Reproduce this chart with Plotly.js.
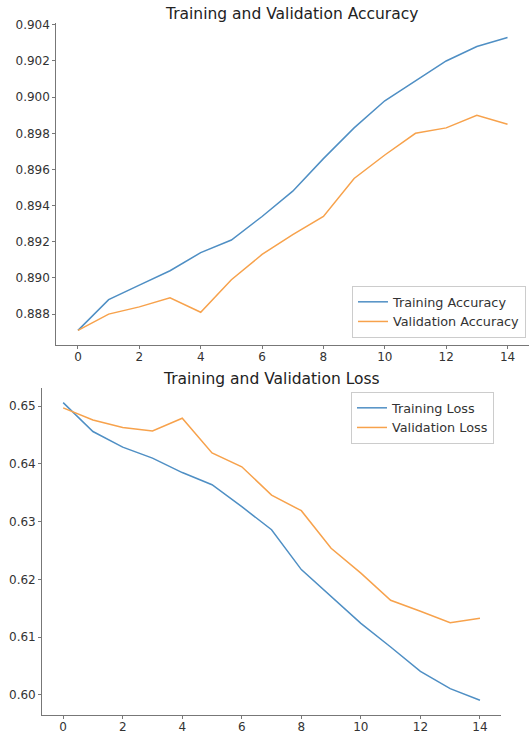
<!DOCTYPE html>
<html>
<head>
<meta charset="utf-8">
<script src="https://cdn.plot.ly/plotly-3.0.1.min.js"></script>
<style>html,body{margin:0;padding:0;background:#fff;}#chart{width:529px;height:733px;}</style>
</head>
<body>
<div id="chart"></div>
<script>
const epochs = [0,1,2,3,4,5,6,7,8,9,10,11,12,13,14];
const trainAcc = [0.8871,0.8888,0.8896,0.8904,0.8914,0.8921,0.8934,0.8948,0.8966,0.8983,0.8998,0.9009,0.9020,0.9028,0.9033];
const valAcc = [0.8871,0.8880,0.8884,0.8889,0.8881,0.8899,0.8913,0.8924,0.8934,0.8955,0.8968,0.8980,0.8983,0.8990,0.8985];
const trainLoss = [0.6506,0.6456,0.6429,0.6410,0.6385,0.6364,0.6326,0.6286,0.6217,0.6171,0.6124,0.6083,0.6041,0.6011,0.5991];
const valLoss = [0.6497,0.6476,0.6463,0.6457,0.6479,0.6419,0.6395,0.6346,0.6319,0.6254,0.6211,0.6164,0.6145,0.6125,0.6133];
const xTicks = [0,2,4,6,8,10,12,14];
const accTicks = [0.888,0.890,0.892,0.894,0.896,0.898,0.900,0.902,0.904];
const lossTicks = [0.60,0.61,0.62,0.63,0.64,0.65];

const blue = '#4f8fc4';
const orange = '#f7a24c';
const font = 'DejaVu Sans, sans-serif';

const traces = [
  {x: epochs, y: trainAcc, name: 'Training Accuracy', mode: 'lines', line: {color: blue, width: 1.5}, xaxis: 'x', yaxis: 'y', legend: 'legend'},
  {x: epochs, y: valAcc, name: 'Validation Accuracy', mode: 'lines', line: {color: orange, width: 1.5}, xaxis: 'x', yaxis: 'y', legend: 'legend'},
  {x: epochs, y: trainLoss, name: 'Training Loss', mode: 'lines', line: {color: blue, width: 1.5}, xaxis: 'x2', yaxis: 'y2', legend: 'legend2'},
  {x: epochs, y: valLoss, name: 'Validation Loss', mode: 'lines', line: {color: orange, width: 1.5}, xaxis: 'x2', yaxis: 'y2', legend: 'legend2'}
];

const axCommon = {
  showgrid: false, zeroline: false, showline: true, linecolor: '#777', linewidth: 1.2,
  ticks: 'outside', ticklen: 3, tickcolor: '#777', tickwidth: 1,
  tickfont: {family: font, size: 12, color: '#333'}, automargin: false, fixedrange: true
};
const xExtra = {ticklabelstandoff: -3};

const layout = {
  width: 529, height: 733,
  margin: {l: 0, r: 0, t: 0, b: 0},
  paper_bgcolor: '#fff', plot_bgcolor: '#fff',
  font: {family: font, color: '#333'},
  xaxis: Object.assign({}, axCommon, xExtra, {domain: [0.1068, 1.0], range: [-0.7, 14.7], tickvals: xTicks, anchor: 'y'}),
  yaxis: Object.assign({}, axCommon, {domain: [0.5293, 0.9686], range: [0.88629, 0.90410], tickvals: accTicks, tickformat: '.3f', anchor: 'x'}),
  xaxis2: Object.assign({}, axCommon, xExtra, {domain: [0.0800, 0.9467], range: [-0.7, 14.7], tickvals: xTicks, anchor: 'y2'}),
  yaxis2: Object.assign({}, axCommon, {domain: [0.0245, 0.4707], range: [0.59653, 0.65314], tickvals: lossTicks, tickformat: '.2f', anchor: 'x2'}),
  legend: {x: 0.9943, xanchor: 'right', y: 1 - 338/733, yanchor: 'bottom', bgcolor: '#fff', bordercolor: '#ccc', borderwidth: 1,
           font: {family: font, size: 12.8, color: '#333'}},
  legend2: {x: 494/529, xanchor: 'right', y: 1 - 392/733, yanchor: 'top', bgcolor: '#fff', bordercolor: '#ccc', borderwidth: 1,
           font: {family: font, size: 12.8, color: '#333'}},
  annotations: [
    {text: 'Training and Validation Accuracy', xref: 'paper', yref: 'paper', x: 291/529, y: 1 - 14/733, xanchor: 'center', yanchor: 'middle', showarrow: false,
     font: {family: font, size: 15.5, color: '#222'}},
    {text: 'Training and Validation Loss', xref: 'paper', yref: 'paper', x: 271/529, y: 1 - 379/733, xanchor: 'center', yanchor: 'middle', showarrow: false,
     font: {family: font, size: 15.5, color: '#222'}}
  ],
  showlegend: true
};

Plotly.newPlot('chart', traces, layout, {displayModeBar: false, staticPlot: true});
</script>
</body>
</html>
